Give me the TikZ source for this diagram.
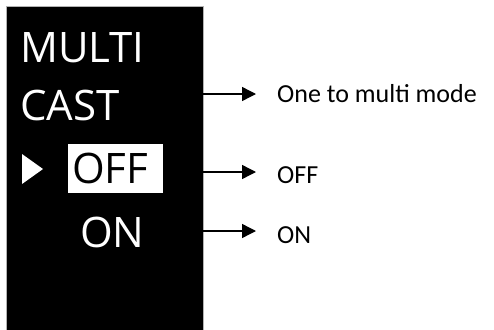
\documentclass[tikz,border=0pt]{standalone}
\usepackage{fontspec}
\setmainfont{Carlito}
\newfontfamily\panelfont{Open Sans}
\usetikzlibrary{arrows.meta}
\begin{document}
\begin{tikzpicture}[x=1pt,y=-1pt,
  paneltext/.style={font=\panelfont\fontsize{42}{42}\selectfont, text=white, anchor=base west, inner sep=0pt},
  labeltext/.style={font=\fontsize{26}{26}\selectfont, text=black, anchor=west, inner sep=0pt},
  pointer/.style={-{Triangle[length=14pt,width=14pt]}, line width=1.4pt}]
\useasboundingbox (0,0) rectangle (494,329);
\node[fill=black, draw=gray!60, line width=0.6pt, minimum width=197pt, minimum height=324pt, inner sep=0pt, anchor=north west] (panel) at (6,6) {};
\node[paneltext] (multi) at (20,63) {MULTI};
\node[paneltext] (cast) at (20,120) {CAST};
\node[fill=white, minimum width=95pt, minimum height=49pt, inner sep=0pt, anchor=north west] (offbox) at (68,144) {};
\node[paneltext, text=black] (off) at (72,183) {OFF};
\node[paneltext] (on) at (80,247) {ON};
\fill[white] (22,154) -- (43,169) -- (22,184) -- cycle;
\node[labeltext] (lone) at (277,94) {One to multi mode};
\node[labeltext] (loff) at (277,175) {OFF};
\node[labeltext] (lon) at (277,235) {ON};
\coordinate (a1) at (203,94);
\coordinate (a2) at (203,172);
\coordinate (a3) at (203,231);
\draw[pointer] (a1) -- ([xshift=-21pt]lone.west |- a1);
\draw[pointer] (a2) -- ([xshift=-21pt]loff.west |- a2);
\draw[pointer] (a3) -- ([xshift=-21pt]lon.west |- a3);
\end{tikzpicture}
\end{document}
